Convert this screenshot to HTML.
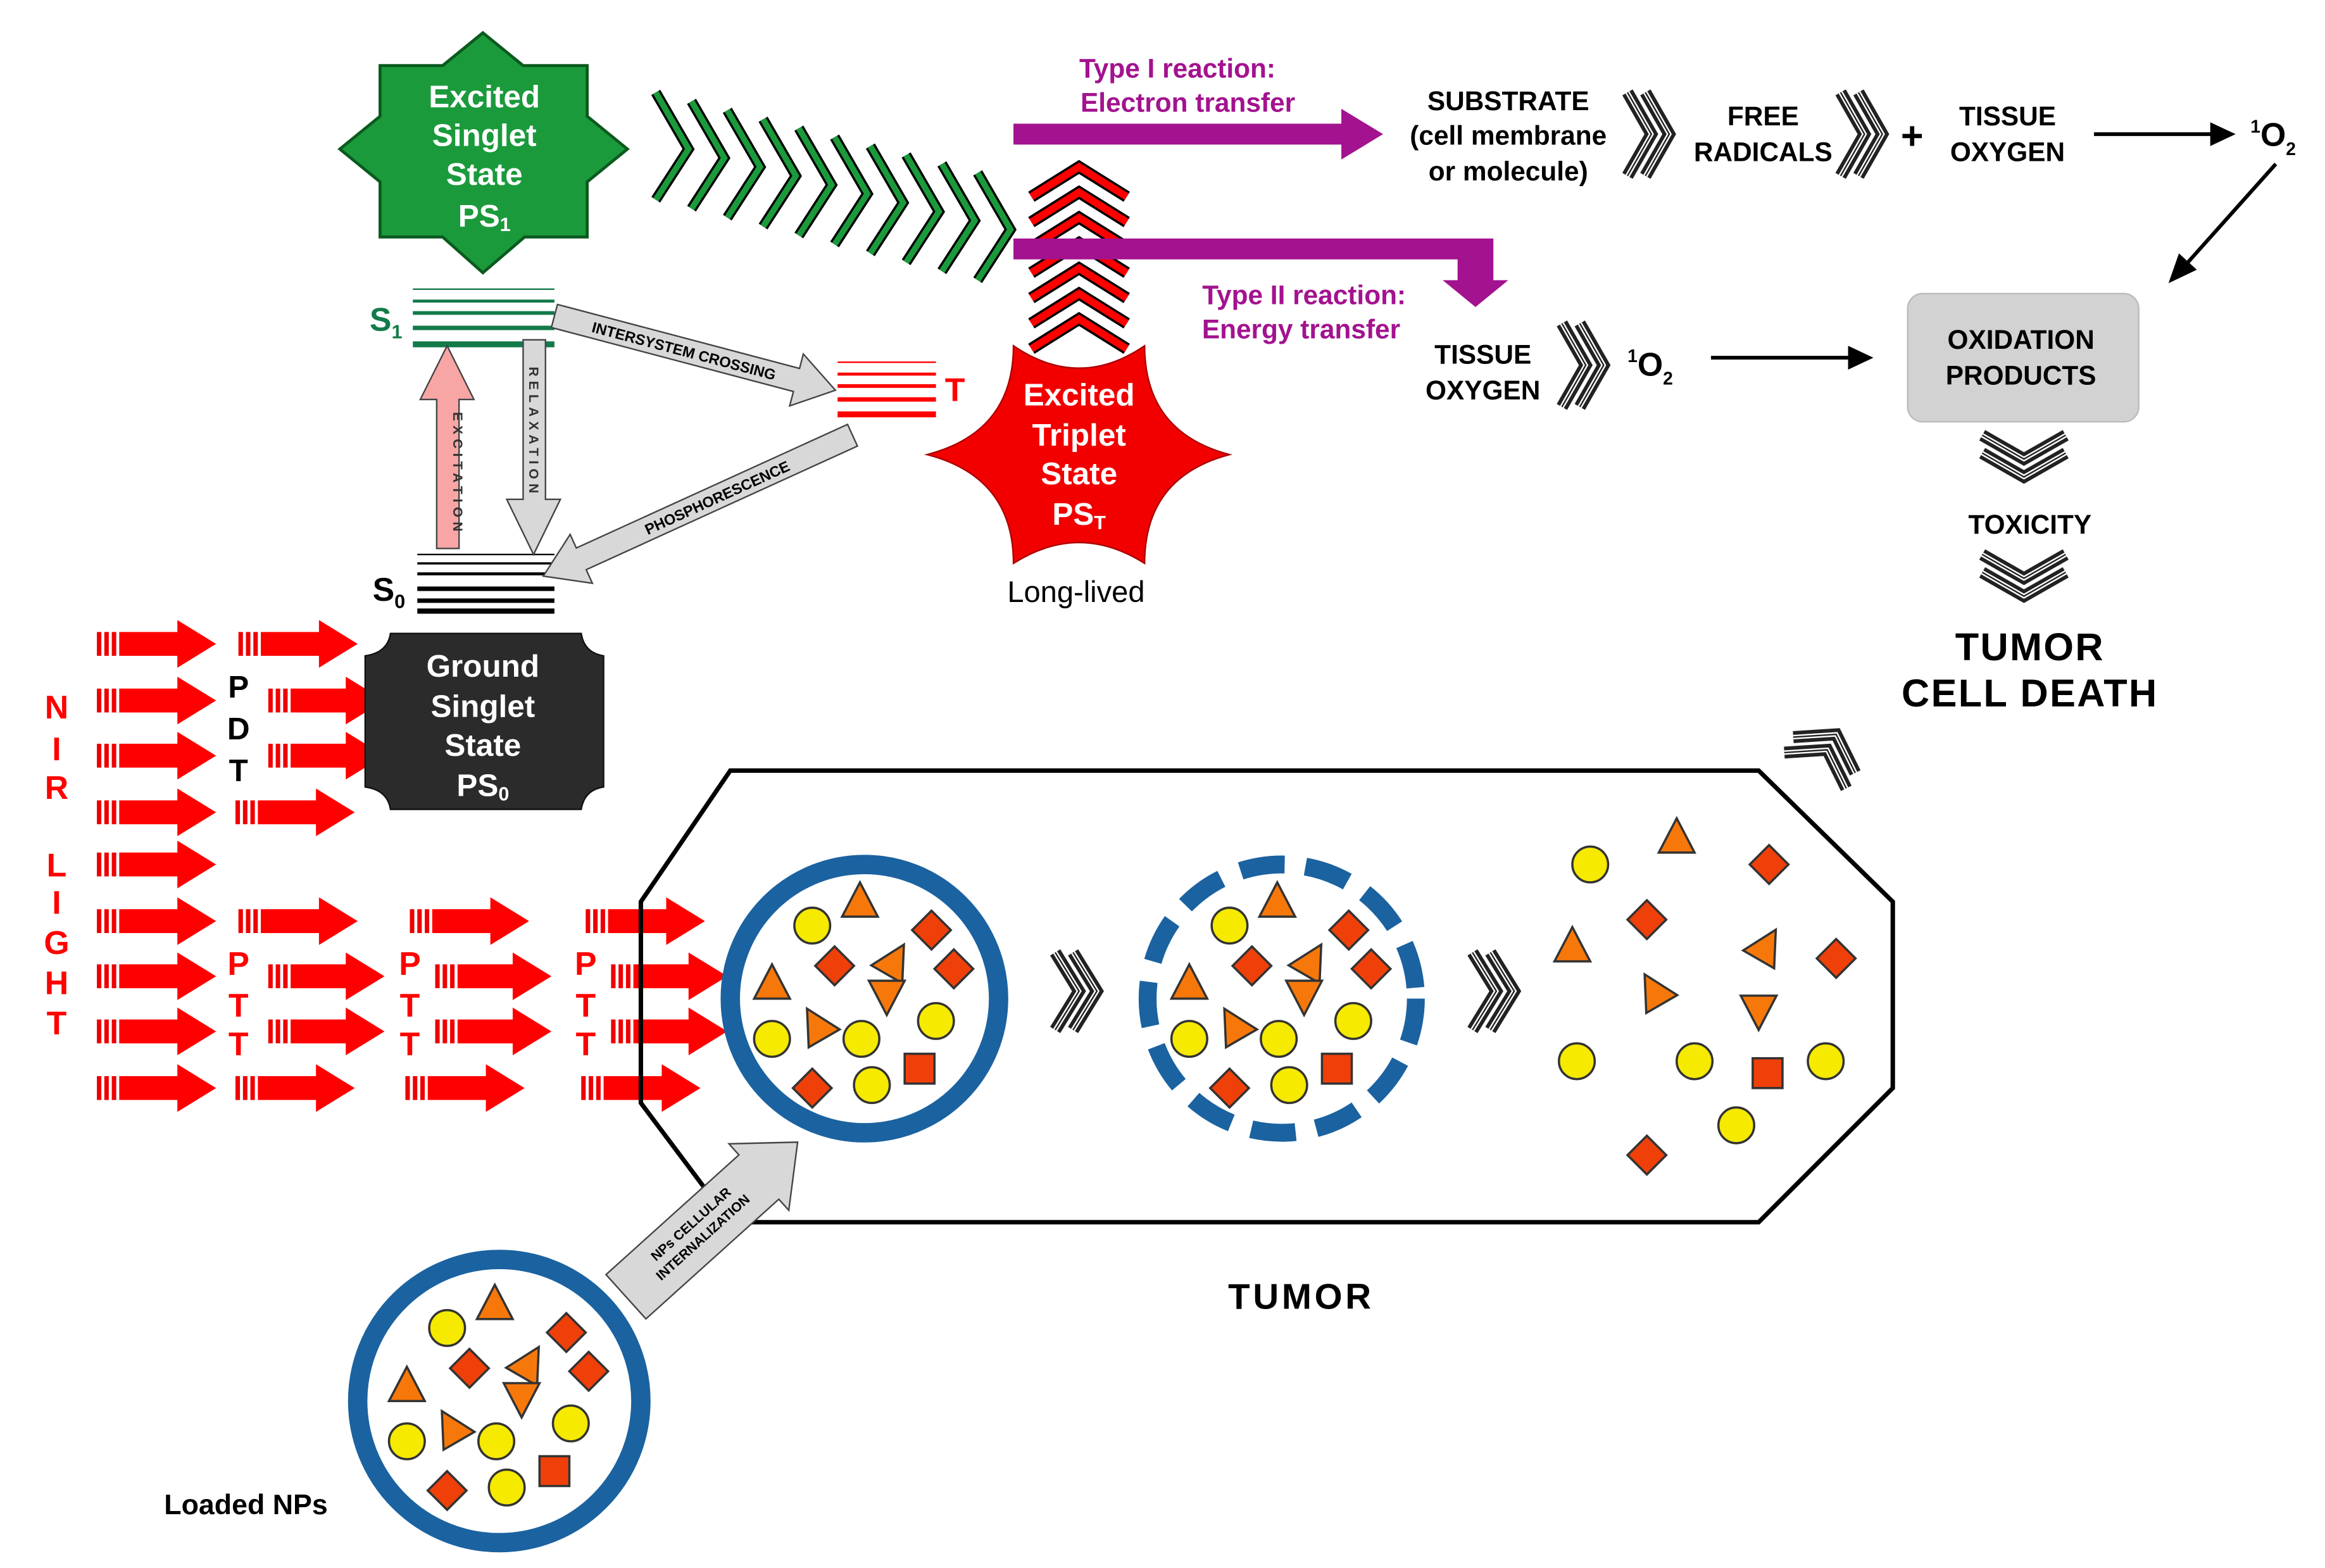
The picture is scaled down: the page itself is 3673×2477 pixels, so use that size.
<!DOCTYPE html>
<html><head><meta charset="utf-8">
<style>
html,body{margin:0;padding:0;background:#fff;}
svg{display:block;}
text{font-family:"Liberation Sans",sans-serif;}
</style></head>
<body>
<svg id="s" width="3673" height="2477" viewBox="0 0 1560 1052" preserveAspectRatio="none" xmlns="http://www.w3.org/2000/svg">
<g id="shapes"></g>

<!-- Green star -->
<polygon points="324,22 351,44 394,44 394,78 421,100 394,122 394,159 352,159 324,183 297,159 255,159 255,122 228,100 255,78 255,44 297,44" fill="#1b9a3c" stroke="#0b5a1e" stroke-width="2"/>
<g fill="#fff" font-weight="bold" font-size="21" text-anchor="middle">
<text x="325" y="72">Excited</text><text x="325" y="98">Singlet</text><text x="325" y="124">State</text><text x="325" y="152">PS<tspan font-size="13" dy="3">1</tspan></text>
</g>

<!-- Red star -->
<path d="M622,305 Q680,290 680,232 Q724,262 768,232 Q768,290 825,305 Q768,320 768,378 Q724,350 680,378 Q680,320 622,305 Z" fill="#f20000" stroke="#a00" stroke-width="1"/>
<g fill="#fff" font-weight="bold" font-size="21" text-anchor="middle">
<text x="724" y="272">Excited</text><text x="724" y="299">Triplet</text><text x="724" y="325">State</text><text x="724" y="352">PS<tspan font-size="13" dy="3">T</tspan></text>
</g>
<text x="722" y="404" font-size="20" text-anchor="middle">Long-lived</text>

<!-- Ground box -->
<path d="M262,425 L390,425 Q392,438 405,440 L405,528 Q392,530 390,543 L262,543 Q260,530 245,528 L245,440 Q260,438 262,425 Z" fill="#2b2b2b" stroke="#111" stroke-width="1"/>
<g fill="#fff" font-weight="bold" font-size="21" text-anchor="middle">
<text x="324" y="454">Ground</text><text x="324" y="481">Singlet</text><text x="324" y="507">State</text><text x="324" y="534">PS<tspan font-size="13" dy="3">0</tspan></text>
</g>

<g stroke="#137a4a">
<line x1="277" y1="194" x2="372" y2="194" stroke-width="1"/>
<line x1="277" y1="202" x2="372" y2="202" stroke-width="2"/>
<line x1="277" y1="210" x2="372" y2="210" stroke-width="2.5"/>
<line x1="277" y1="220" x2="372" y2="220" stroke-width="3"/>
<line x1="277" y1="231" x2="372" y2="231" stroke-width="4"/>
</g>
<text x="248" y="222" font-size="22" font-weight="bold" fill="#137a4a">S<tspan font-size="13" dy="5">1</tspan></text>
<g stroke="#000">
<line x1="280" y1="372" x2="372" y2="372" stroke-width="1"/>
<line x1="280" y1="378" x2="372" y2="378" stroke-width="1.5"/>
<line x1="280" y1="385" x2="372" y2="385" stroke-width="2"/>
<line x1="280" y1="395" x2="372" y2="395" stroke-width="3"/>
<line x1="280" y1="403" x2="372" y2="403" stroke-width="3"/>
<line x1="280" y1="410" x2="372" y2="410" stroke-width="3.5"/>
</g>
<text x="250" y="403" font-size="22" font-weight="bold">S<tspan font-size="13" dy="5">0</tspan></text>
<g stroke="#f00">
<line x1="562" y1="243" x2="628" y2="243" stroke-width="1"/>
<line x1="562" y1="251" x2="628" y2="251" stroke-width="2"/>
<line x1="562" y1="259" x2="628" y2="259" stroke-width="2.5"/>
<line x1="562" y1="268" x2="628" y2="268" stroke-width="3"/>
<line x1="562" y1="278" x2="628" y2="278" stroke-width="4"/>
</g>
<text x="634" y="269" font-size="22" font-weight="bold" fill="#f00">T</text>

<polygon points="293,368 308,368 308,268 318,268 300,232 282,268 293,268" fill="#f7a5a5" stroke="#444" stroke-width="1"/>
<text font-size="9" font-weight="bold" fill="#333" text-anchor="middle" transform="translate(304,318) rotate(90)" letter-spacing="3">EXCITATION</text>
<polygon points="351,228 366,228 366,335 376,335 358,372 340,335 351,335" fill="#d8d8d8" stroke="#444" stroke-width="1"/>
<text font-size="9" font-weight="bold" fill="#333" text-anchor="middle" transform="translate(355,290) rotate(90)" letter-spacing="3">RELAXATION</text>
<g transform="translate(372,212) rotate(14.8)">
<polygon points="0,-8 168,-8 168,-18 195,0 168,18 168,8 0,8" fill="#d8d8d8" stroke="#444" stroke-width="1"/>
<text x="90" y="4" font-size="10" font-weight="bold" text-anchor="middle">INTERSYSTEM CROSSING</text>
</g>
<g transform="translate(572,292) rotate(155.5)">
<polygon points="0,-8 200,-8 200,-18 228,0 200,18 200,8 0,8" fill="#d8d8d8" stroke="#444" stroke-width="1"/>
<text x="100" y="4" font-size="10" font-weight="bold" text-anchor="middle" transform="rotate(180,100,0)">PHOSPHORESCENCE</text>
</g>

<polygon points="680,83 900,83 900,73 928,90 900,107 900,97 680,97" fill="#a3128f"/>
<polygon points="680,160 1002,160 1002,188 1012,188 990,206 968,188 978,188 978,174 680,174" fill="#a3128f"/>
<g fill="#a3128f" font-weight="bold" font-size="18" text-anchor="middle">
<text x="790" y="52">Type I reaction:</text><text x="797" y="75">Electron transfer</text>
<text x="875" y="204">Type II reaction:</text><text x="873" y="227">Energy transfer</text>
</g>

<g font-weight="bold" font-size="18" text-anchor="middle">
<text x="1012" y="74">SUBSTRATE</text><text x="1012" y="97">(cell membrane</text><text x="1012" y="121">or molecule)</text>
<text x="1183" y="84">FREE</text><text x="1183" y="108">RADICALS</text>
<text x="1283" y="100" font-size="26">+</text>
<text x="1347" y="84">TISSUE</text><text x="1347" y="108">OXYGEN</text>
<text x="995" y="244">TISSUE</text><text x="995" y="268">OXYGEN</text>
<text x="1362" y="358">TOXICITY</text>
<text x="1362" y="443" font-size="26" letter-spacing="1">TUMOR</text>
<text x="1362" y="474" font-size="26" letter-spacing="1">CELL DEATH</text>
<text x="873" y="878" font-size="24" letter-spacing="2">TUMOR</text>
<text x="165" y="1016" font-size="19">Loaded NPs</text>
</g>
<text x="1510" y="98" font-size="22" font-weight="bold"><tspan font-size="12" dy="-9">1</tspan><tspan dy="9">O</tspan><tspan font-size="12" dy="6">2</tspan></text>
<text x="1092" y="252" font-size="22" font-weight="bold"><tspan font-size="12" dy="-9">1</tspan><tspan dy="9">O</tspan><tspan font-size="12" dy="6">2</tspan></text>
<rect x="1280" y="197" width="155" height="86" rx="10" fill="#d2d2d2" stroke="#bbb"/>
<g font-weight="bold" font-size="18" text-anchor="middle"><text x="1356" y="234">OXIDATION</text><text x="1356" y="258">PRODUCTS</text></g>
<g stroke="#000" stroke-width="2.5" fill="#000">
<line x1="1405" y1="90" x2="1485" y2="90"/><polygon points="1500,90 1483,82 1483,98" stroke="none"/>
<line x1="1148" y1="240" x2="1240" y2="240"/><polygon points="1257,240 1240,232 1240,248" stroke="none"/>
<line x1="1527" y1="110" x2="1468" y2="176"/><polygon points="1455,190 1462,170 1474,181" stroke="none"/>
</g>

<polygon points="430,605 490,517 1180,517 1270,605 1270,730 1180,820 490,820 430,740" fill="none" stroke="#000" stroke-width="3"/>
<circle cx="580" cy="670" r="90" fill="none" stroke="#1b62a0" stroke-width="13"/>
<circle cx="860" cy="670" r="90" fill="none" stroke="#1b62a0" stroke-width="12" stroke-dasharray="30,14"/>
<circle cx="335" cy="940" r="95" fill="none" stroke="#1b62a0" stroke-width="13"/>
<g transform="translate(420,870) rotate(-42)">
<polygon points="0,-20 120,-20 120,-30 155,0 120,30 120,20 0,20" fill="#d8d8d8" stroke="#444" stroke-width="1"/>
<text x="65" y="-4" font-size="9" font-weight="bold" text-anchor="middle">NPs CELLULAR</text>
<text x="65" y="8" font-size="9" font-weight="bold" text-anchor="middle">INTERNALIZATION</text>
</g>

<g fill="#f00" font-weight="bold" font-size="22" text-anchor="middle">
<text x="38" y="482">N</text><text x="38" y="510">I</text><text x="38" y="536">R</text>
<text x="38" y="588">L</text><text x="38" y="613">I</text><text x="38" y="640">G</text><text x="38" y="667">H</text><text x="38" y="694">T</text>
<text x="160" y="654">P</text><text x="160" y="682">T</text><text x="160" y="708">T</text>
<text x="275" y="654">P</text><text x="275" y="682">T</text><text x="275" y="708">T</text>
<text x="393" y="654">P</text><text x="393" y="682">T</text><text x="393" y="708">T</text>
</g>
<g fill="#000" font-weight="bold" font-size="21" text-anchor="middle">
<text x="160" y="468">P</text><text x="160" y="496">D</text><text x="160" y="524">T</text>
</g>
</svg>
<script>
var g=document.getElementById('shapes');var h='';
function arrow(x1,x2,y){var hx=x2-26;
 h+='<rect x="'+x1+'" y="'+(y-8)+'" width="3" height="16" fill="#e00"/><rect x="'+(x1+5)+'" y="'+(y-8)+'" width="3" height="16" fill="#e00"/><rect x="'+(x1+10)+'" y="'+(y-8)+'" width="3" height="16" fill="#e00"/>';
 h+='<polygon points="'+(x1+15)+','+(y-8)+' '+hx+','+(y-8)+' '+hx+','+(y-16)+' '+x2+','+y+' '+hx+','+(y+16)+' '+hx+','+(y+8)+' '+(x1+15)+','+(y+8)+'" fill="#f00"/>';}
var rows=[432,470,507,545,580,618,655,692,730];
rows.forEach(function(y){arrow(65,145,y);});
arrow(160,240,432);arrow(180,258,470);arrow(180,258,507);arrow(158,238,545);
arrow(160,240,618);arrow(180,258,655);arrow(180,258,692);arrow(158,238,730);
arrow(275,355,618);arrow(292,370,655);arrow(292,370,692);arrow(272,352,730);
arrow(393,473,618);arrow(410,488,655);arrow(410,488,692);arrow(390,470,730);
for(var i=0;i<10;i++){var x=440+i*24,y=62+i*6;
 var p=(x)+','+(y)+' '+(x+22)+','+(y+38)+' '+(x)+','+(y+72);
 h+='<polyline points="'+p+'" fill="none" stroke="#000" stroke-width="7"/><polyline points="'+p+'" fill="none" stroke="#1b9a3c" stroke-width="4"/>';}
for(var i=0;i<7;i++){var y=112+i*17;var p='692,'+(y+20)+' 724,'+y+' 756,'+(y+20);
 h+='<polyline points="'+p+'" fill="none" stroke="#000" stroke-width="8"/><polyline points="'+p+'" fill="none" stroke="#f00" stroke-width="5"/>';}
function dch(x,y,s,rot){
 for(var k=0;k<2;k++){var xx=k*12;var p=(xx-8)+','+(-s)+' '+(xx+8)+',0 '+(xx-8)+','+s;
 h+='<g transform="translate('+x+','+y+') rotate('+rot+')"><polyline points="'+p+'" fill="none" stroke="#222" stroke-width="8"/><polyline points="'+p+'" fill="none" stroke="#fff" stroke-width="3"/><polyline points="'+p+'" fill="none" stroke="#222" stroke-width="1"/></g>';}}
dch(1100,90,28,0);dch(1243,90,28,0);dch(1056,245,28,0);
dch(716,665,26,0);dch(996,665,26,0);
dch(1358,300,28,90);dch(1358,380,28,90);
dch(1222,510,24,-60);
function C(x,y){h+='<circle cx="'+x+'" cy="'+y+'" r="12" fill="#f5ea00" stroke="#333" stroke-width="1.5"/>';}
function T(x,y,r){h+='<polygon transform="translate('+x+','+y+') rotate('+(r||0)+')" points="0,-13 12,10 -12,10" fill="#f7780a" stroke="#333" stroke-width="1.5"/>';}
function D(x,y){h+='<polygon points="'+x+','+(y-13)+' '+(x+13)+','+y+' '+x+','+(y+13)+' '+(x-13)+','+y+'" fill="#f0400a" stroke="#333" stroke-width="1.5"/>';}
function S(x,y){h+='<rect x="'+(x-10)+'" y="'+(y-10)+'" width="20" height="20" fill="#f0400a" stroke="#333" stroke-width="1.5"/>';}
function set(cx,cy){var o=[cx-580,cy-670];function a(f,x,y,r){f(x+o[0],y+o[1],r);}
 a(C,545,621);a(C,518,697);a(C,578,697);a(C,628,685);a(C,585,728);
 a(T,577,605);a(T,518,660);a(T,548,688,-30);a(T,600,645,30);a(T,595,668,180);
 a(D,560,648);a(D,625,624);a(D,640,650);a(D,545,730);a(S,617,717);}
set(580,670);set(860,670);set(335,940);
C(1067,580);C(1058,712);C(1137,712);C(1225,712);C(1165,755);
T(1125,562);T(1055,635);T(1110,665,-30);T(1185,635,30);T(1180,678,180);
D(1187,580);D(1105,617);D(1232,643);D(1105,775);S(1186,720);
g.innerHTML=h;
</script>
</body></html>
